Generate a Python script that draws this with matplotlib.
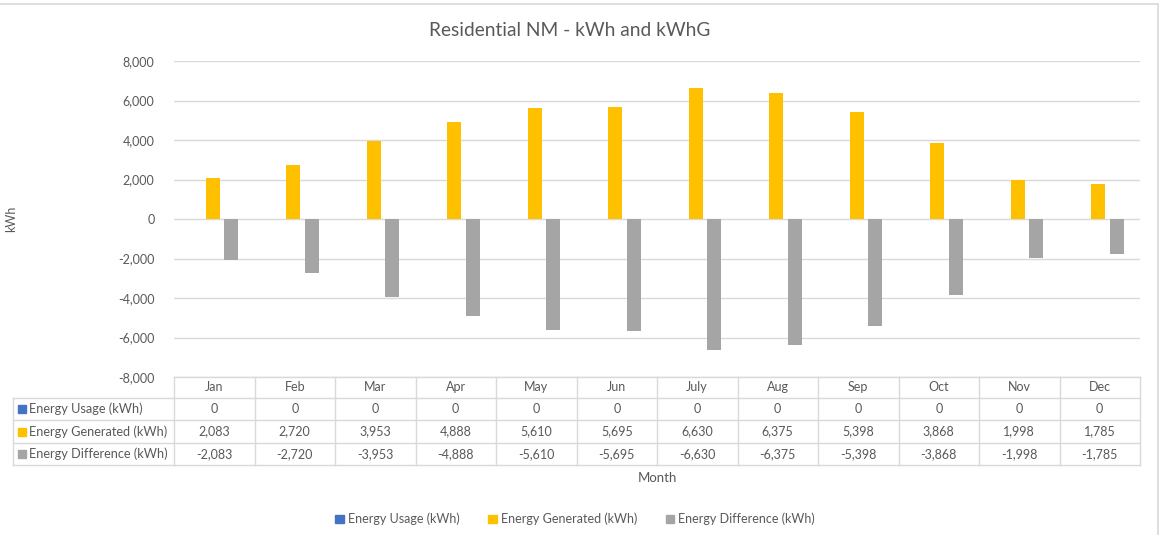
import matplotlib
matplotlib.use("Agg")
import matplotlib.pyplot as plt
from matplotlib.patches import Rectangle
from matplotlib.lines import Line2D
import numpy as np

months = ["Jan", "Feb", "Mar", "Apr", "May", "Jun", "July", "Aug", "Sep", "Oct", "Nov", "Dec"]
usage = [0, 0, 0, 0, 0, 0, 0, 0, 0, 0, 0, 0]
generated = [2083, 2720, 3953, 4888, 5610, 5695, 6630, 6375, 5398, 3868, 1998, 1785]
difference = [-2083, -2720, -3953, -4888, -5610, -5695, -6630, -6375, -5398, -3868, -1998, -1785]
series_names = ["Energy Usage (kWh)", "Energy Generated (kWh)", "Energy Difference (kWh)"]
colors = ["#4472C4", "#FFC000", "#A5A5A5"]
yticks = [-8000, -6000, -4000, -2000, 0, 2000, 4000, 6000, 8000]

plt.rcParams['font.family'] = ['Lato', 'DejaVu Sans']
TXT = "#595959"
GRID = "#D9D9D9"

W, H = 1167, 535
fig = plt.figure(figsize=(W / 100, H / 100), dpi=100)

def fx(px):
    return px / W

def fy(py):
    return 1 - py / H

ax_l, ax_r, ax_t, ax_b = 174, 1140, 61, 377
ax = fig.add_axes([fx(ax_l), fy(ax_b), fx(ax_r) - fx(ax_l), fy(ax_t) - fy(ax_b)])
n = len(months)
x = np.arange(n)
bw = 0.174
off = 0.23
data = [usage, generated, difference]
for i, (vals, c) in enumerate(zip(data, colors)):
    ax.bar(x + (i - 1) * off - 0.02, vals, width=bw, color=c, zorder=3, label=series_names[i])
ax.set_xlim(-0.5, n - 0.5)
ax.set_ylim(-8000, 8000)
ax.set_yticks(yticks)
ax.set_yticklabels([f"{v:,}" for v in yticks], color=TXT, fontsize=9)
ax.tick_params(axis='y', length=0, pad=14)
ax.set_xticks([])
ax.grid(axis='y', color=GRID, linewidth=1, zorder=0)
for s in ax.spines.values():
    s.set_visible(False)
ax.set_ylabel("kWh", color=TXT, fontsize=9, labelpad=0)
ax.yaxis.set_label_coords(fx(17 - ax_l) / (fx(ax_r) - fx(ax_l)), 0.5)

fig.text(fx(570), fy(30), "Residential NM - kWh and kWhG", ha='center', va='center',
         fontsize=13.8, color=TXT)

# Data table
tab_l, tab_r = 13, 1140
rows_y = [377, 398, 420, 443, 465]
tax = fig.add_axes([fx(ax_l), fy(465), fx(ax_r) - fx(ax_l), fy(377) - fy(465)])
tax.set_xlim(-0.5, n - 0.5)
tax.set_ylim(465, 377)
tax.axis('off')
for xb in np.arange(-0.5, n, 1.0):
    tax.plot([xb, xb], [377, 465], color=GRID, lw=1, clip_on=False)
for yy in rows_y:
    tax.plot([-0.5, n - 0.5], [yy, yy], color=GRID, lw=1, clip_on=False)
# left column (figure coords)
for yy in rows_y[1:]:
    fig.add_artist(Line2D([fx(tab_l), fx(ax_l)], [fy(yy), fy(yy)], color=GRID, lw=1))
fig.add_artist(Line2D([fx(tab_l), fx(tab_l)], [fy(398), fy(465)], color=GRID, lw=1))

row_vals = [usage, generated, difference]
for j in range(n):
    tax.text(j, (rows_y[0] + rows_y[1]) / 2, months[j], ha='center', va='center',
             color=TXT, fontsize=9)
    for r in range(3):
        v = row_vals[r][j]
        tax.text(j, (rows_y[r + 1] + rows_y[r + 2]) / 2, f"{v:,}", ha='center',
                 va='center', color=TXT, fontsize=9)
for r in range(3):
    yc = (rows_y[r + 1] + rows_y[r + 2]) / 2
    fig.add_artist(Rectangle((fx(18), fy(yc + 4)), fx(8), 8 / H, color=colors[r]))
    fig.text(fx(29), fy(yc), series_names[r], ha='left', va='center', color=TXT, fontsize=9.2)

fig.text(fx(657), fy(478), "Month", ha='center', va='center', color=TXT, fontsize=9.5)

# Legend
handles = [Rectangle((0, 0), 1, 1, color=c) for c in colors]
leg = fig.legend(handles, series_names, loc='center', bbox_to_anchor=(fx(575), fy(519)),
                 ncol=3, frameon=False, fontsize=9, handlelength=0.7, handleheight=0.7,
                 handletextpad=0.3, columnspacing=2.3, labelcolor=TXT)

# chart border: only top and right edges visible
fig.add_artist(Line2D([0, fx(1157.5)], [fy(3.5), fy(3.5)], color=GRID, lw=1.2))
fig.add_artist(Line2D([fx(1157.5), fx(1157.5)], [fy(3.5), 0], color=GRID, lw=1.2))

fig.savefig("out.png", dpi=100)
